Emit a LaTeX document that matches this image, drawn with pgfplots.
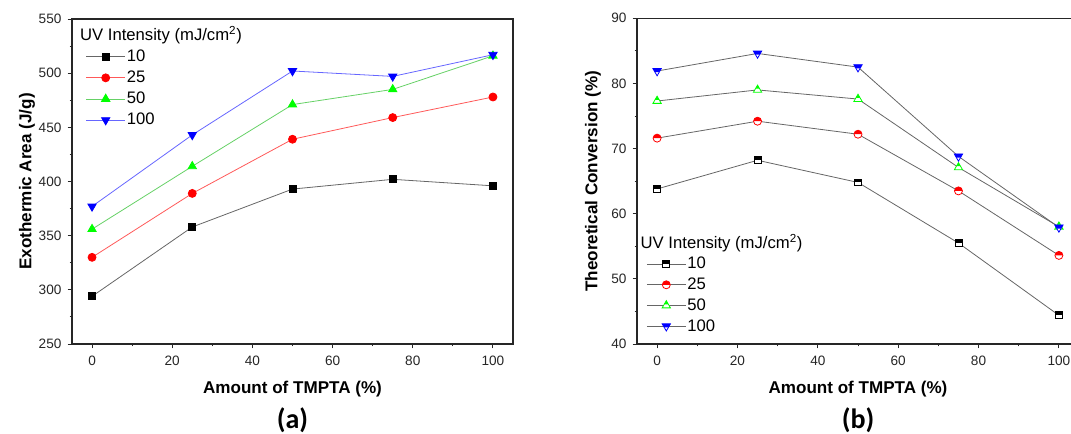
\documentclass[border=0pt]{standalone}
\usepackage{fontspec}
\setmainfont{Liberation Sans}
\newfontfamily\calib{Carlito}
\usepackage{pgfplots}
\pgfplotsset{compat=1.18}
\usetikzlibrary{plotmarks}

\pgfdeclareplotmark{hsq}{%
  \begin{pgfscope}\pgfsetfillcolor{white}%
  \pgfpathrectanglecorners{\pgfqpoint{-\pgfplotmarksize}{-\pgfplotmarksize}}{\pgfqpoint{\pgfplotmarksize}{\pgfplotmarksize}}%
  \pgfusepathqfill\end{pgfscope}%
  \pgfpathrectanglecorners{\pgfqpoint{-\pgfplotmarksize}{0pt}}{\pgfqpoint{\pgfplotmarksize}{\pgfplotmarksize}}%
  \pgfusepathqfill
  \pgfpathrectanglecorners{\pgfqpoint{-\pgfplotmarksize}{-\pgfplotmarksize}}{\pgfqpoint{\pgfplotmarksize}{\pgfplotmarksize}}%
  \pgfusepathqstroke
}
\pgfdeclareplotmark{hcirc}{%
  \begin{pgfscope}\pgfsetfillcolor{white}%
  \pgfpathcircle{\pgfpointorigin}{\pgfplotmarksize}%
  \pgfusepathqfill\end{pgfscope}%
  \pgfpathmoveto{\pgfqpoint{\pgfplotmarksize}{0pt}}%
  \pgfpatharc{0}{180}{\pgfplotmarksize}%
  \pgfpathclose
  \pgfusepathqfill
  \pgfpathcircle{\pgfpointorigin}{\pgfplotmarksize}%
  \pgfusepathqstroke
}
\pgfdeclareplotmark{htriup}{%
  \begin{pgfscope}\pgfsetfillcolor{white}%
  \pgfpathmoveto{\pgfqpoint{0pt}{\pgfplotmarksize}}%
  \pgfpathlineto{\pgfqpoint{-0.866\pgfplotmarksize}{-0.5\pgfplotmarksize}}%
  \pgfpathlineto{\pgfqpoint{0.866\pgfplotmarksize}{-0.5\pgfplotmarksize}}%
  \pgfpathclose
  \pgfusepathqfill\end{pgfscope}%
  \pgfpathmoveto{\pgfqpoint{0pt}{\pgfplotmarksize}}%
  \pgfpathlineto{\pgfqpoint{-0.433\pgfplotmarksize}{0.25\pgfplotmarksize}}%
  \pgfpathlineto{\pgfqpoint{0.433\pgfplotmarksize}{0.25\pgfplotmarksize}}%
  \pgfpathclose
  \pgfusepathqfill
  \pgfpathmoveto{\pgfqpoint{0pt}{\pgfplotmarksize}}%
  \pgfpathlineto{\pgfqpoint{-0.866\pgfplotmarksize}{-0.5\pgfplotmarksize}}%
  \pgfpathlineto{\pgfqpoint{0.866\pgfplotmarksize}{-0.5\pgfplotmarksize}}%
  \pgfpathclose
  \pgfusepathqstroke
}
\pgfdeclareplotmark{htridown}{%
  \begin{pgfscope}\pgfsetfillcolor{white}%
  \pgfpathmoveto{\pgfqpoint{0pt}{-\pgfplotmarksize}}%
  \pgfpathlineto{\pgfqpoint{-0.866\pgfplotmarksize}{0.5\pgfplotmarksize}}%
  \pgfpathlineto{\pgfqpoint{0.866\pgfplotmarksize}{0.5\pgfplotmarksize}}%
  \pgfpathclose
  \pgfusepathqfill\end{pgfscope}%
  \pgfpathmoveto{\pgfqpoint{-0.866\pgfplotmarksize}{0.5\pgfplotmarksize}}%
  \pgfpathlineto{\pgfqpoint{0.866\pgfplotmarksize}{0.5\pgfplotmarksize}}%
  \pgfpathlineto{\pgfqpoint{0.433\pgfplotmarksize}{-0.25\pgfplotmarksize}}%
  \pgfpathlineto{\pgfqpoint{-0.433\pgfplotmarksize}{-0.25\pgfplotmarksize}}%
  \pgfpathclose
  \pgfusepathqfill
  \pgfpathmoveto{\pgfqpoint{0pt}{-\pgfplotmarksize}}%
  \pgfpathlineto{\pgfqpoint{-0.866\pgfplotmarksize}{0.5\pgfplotmarksize}}%
  \pgfpathlineto{\pgfqpoint{0.866\pgfplotmarksize}{0.5\pgfplotmarksize}}%
  \pgfpathclose
  \pgfusepathqstroke
}

\pgfplotstableread{
x   a10  a25  a50  a100
0   294  330  356  377
25  358  389  414  443
50  393  439  471  502
75  402  459  485  497
100 396  478  516  517
}\exo

\pgfplotstableread{
x   c10   c25   c50   c100
0   63.8  71.6  77.3  81.9
25  68.2  74.2  79.0  84.6
50  64.8  72.2  77.6  82.5
75  55.5  63.5  67.1  68.8
100 44.4  53.6  58.0  57.9
}\conv

\newcommand{\labfont}{\bfseries\fontsize{12.8}{15}\selectfont}
\pgfplotsset{
  myaxis/.style={
    scale only axis,
    anchor=south west,
    axis line style={line width=0.9pt, black!85},
    tick style={line width=0.7pt, black!85},
    tick align=outside,
    xtick pos=bottom, ytick pos=left,
    major tick length=3.2pt,
    minor tick length=1.8pt,
    minor x tick num=1,
    minor y tick num=1,
    xmin=-5, xmax=105,
    xtick={0,20,...,100},
    /pgf/number format/assume math mode=true,
    ticklabel style={font=\fontsize{10.2}{12}\selectfont, text=black!85},
    xticklabel style={yshift=-2.5pt},
    yticklabel style={xshift=-1.2pt},
    xlabel={Amount of TMPTA (\%)},
    every axis x label/.style={at={(axis description cs:0.5,-0.138)},anchor=center,font=\labfont},
    legend cell align=left,
    legend image code/.code={\draw[mark repeat=2,mark phase=2,#1] plot coordinates {(0pt,0pt) (14.5pt,0pt) (29pt,0pt)};},
  },
}

\begin{document}
\begin{tikzpicture}
\begin{axis}[myaxis,
  at={(54pt,67.5pt)}, width=330.75pt, height=243.75pt,
  ymin=250, ymax=550, ytick={250,300,...,550},
  ylabel={Exothermic Area (J/g)},
  every axis y label/.style={at={(axis description cs:-0.102,0.5)},rotate=90,anchor=center,font=\labfont},
  legend style={draw=none, fill=none, at={(axis description cs:0.022,0.99)}, anchor=north west,
    font=\fontsize{12.5}{15}\selectfont, row sep=3.6pt,
    nodes={inner sep=1pt}, /tikz/every even column/.style={column sep=4pt}},
  every axis plot/.append style={line width=0.6pt},
]
\addlegendimage{empty legend}
\addlegendentry{\hspace{-35pt}UV Intensity (mJ/cm\textsuperscript{2})}
\addplot[black!60, mark=square*, mark size=2.6pt, mark options={fill=black, draw=black, solid}] table[x=x,y=a10] {\exo};
\addlegendentry{10}
\addplot[red!65, mark=*, mark size=3pt, mark options={fill=red, draw=red, solid}] table[x=x,y=a25] {\exo};
\addlegendentry{25}
\addplot[green!70!black!60!white, mark=triangle*, mark size=3.6pt, mark options={fill=green, draw=green, solid}] table[x=x,y=a50] {\exo};
\addlegendentry{50}
\addplot[blue!60, mark=triangle*, mark size=3.6pt, mark options={fill=blue, draw=blue, solid, rotate=180}] table[x=x,y=a100] {\exo};
\addlegendentry{100}
\end{axis}

\begin{axis}[myaxis,
  at={(477.75pt,67.5pt)}, width=331.5pt, height=244.3pt,
  ymin=40, ymax=90, ytick={40,50,...,90},
  ylabel={Theoretical Conversion (\%)},
  every axis y label/.style={at={(axis description cs:-0.0995,0.5)},rotate=90,anchor=center,font=\labfont},
  legend style={draw=none, fill=none, at={(axis description cs:0.012,0.35)}, anchor=north west,
    font=\fontsize{12.5}{15}\selectfont, row sep=3.3pt,
    nodes={inner sep=1pt}, /tikz/every even column/.style={column sep=4pt}},
  every axis plot/.append style={line width=0.6pt, black!60},
]
\addlegendimage{empty legend}
\addlegendentry{\hspace{-35pt}UV Intensity (mJ/cm\textsuperscript{2})}
\addplot[black!60, mark=hsq, mark size=2.6pt, mark options={fill=black, draw=black, solid, line width=0.6pt}] table[x=x,y=c10] {\conv};
\addlegendentry{10}
\addplot[black!60, mark=hcirc, mark size=3pt, mark options={fill=red, draw=red, solid, line width=0.6pt}] table[x=x,y=c25] {\conv};
\addlegendentry{25}
\addplot[black!60, mark=htriup, mark size=3.6pt, mark options={fill=green, draw=green, solid, line width=0.6pt}] table[x=x,y=c50] {\conv};
\addlegendentry{50}
\addplot[black!60, mark=htridown, mark size=3.6pt, mark options={fill=blue, draw=blue, solid, line width=0.6pt}] table[x=x,y=c100] {\conv};
\addlegendentry{100}
\end{axis}

\node[font=\calib\bfseries\fontsize{21}{24}\selectfont] at (219.4pt,10.5pt) {(a)};
\node[font=\calib\bfseries\fontsize{21}{24}\selectfont] at (643.5pt,10.5pt) {(b)};

\pgfresetboundingbox
\useasboundingbox (0pt,0pt) rectangle (803.25pt,325.5pt);
\end{tikzpicture}
\end{document}
